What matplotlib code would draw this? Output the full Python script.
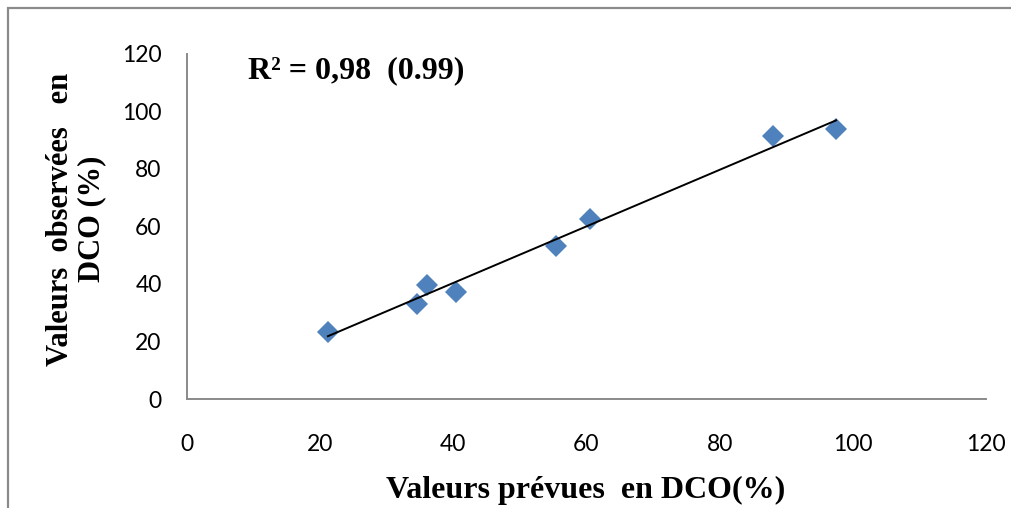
import numpy as np
import matplotlib
matplotlib.use("Agg")
import matplotlib.pyplot as plt
from matplotlib.patches import Rectangle

# Data
predicted = [21.2, 34.6, 36.1, 40.5, 55.4, 60.6, 88.0, 97.5]
observed = [23.4, 32.9, 39.6, 37.1, 53.3, 62.6, 91.5, 93.8]
xticks = [0, 20, 40, 60, 80, 100, 120]
yticks = [0, 20, 40, 60, 80, 100, 120]
r2_text = "R² = 0,98  (0.99)"
xlabel = "Valeurs prévues  en DCO(%)"
ylabel = "Valeurs  observées   en\nDCO (%)"

W, H = 1011, 508
fig = plt.figure(figsize=(W / 100, H / 100), dpi=100)
ax = fig.add_axes([186.7 / W, 1 - 399 / H, (986 - 186.7) / W, (399 - 53.5) / H])

# outer frame (left and top visible)
fig.patches.append(Rectangle((8 / W, -0.05), 1.2, (H - 8) / H + 0.05,
                             transform=fig.transFigure, fill=False,
                             edgecolor="#8a8a8a", linewidth=1.6))

ax.plot(predicted, observed, linestyle="none", marker="D", markersize=11.5,
        color="#4F81BD", markeredgewidth=0, zorder=3)

coef = np.polyfit(predicted, observed, 1)
xs = np.array([min(predicted), max(predicted)])
ax.plot(xs, np.polyval(coef, xs), color="black", linewidth=1.4, zorder=4)

ax.set_xlim(0, 120)
ax.set_ylim(0, 120)
ax.set_xticks(xticks)
ax.set_yticks(yticks)
for s in ["top", "right"]:
    ax.spines[s].set_visible(False)
for s in ["left", "bottom"]:
    ax.spines[s].set_color("#8a8a8a")
    ax.spines[s].set_linewidth(1.4)
ax.tick_params(axis="both", length=0, labelsize=16.5, labelcolor="black")
ax.tick_params(axis="x", pad=25)
ax.tick_params(axis="y", pad=18)
for lab in ax.get_xticklabels() + ax.get_yticklabels():
    lab.set_fontfamily("Lato")

serif = "Liberation Serif"
fig.text(586 / W, 1 - 490 / H, xlabel, ha="center", va="center",
         fontsize=23, fontweight="bold", family=serif)
fig.text(76 / W, 1 - 219 / H, ylabel, ha="center", va="center", rotation=90,
         fontsize=22, fontweight="bold", family=serif, linespacing=1.1,
         multialignment="center")
fig.text(248 / W, 1 - 71 / H, r2_text, ha="left", va="center",
         fontsize=23, fontweight="bold", family=serif)

fig.savefig("out.png", dpi=100)
